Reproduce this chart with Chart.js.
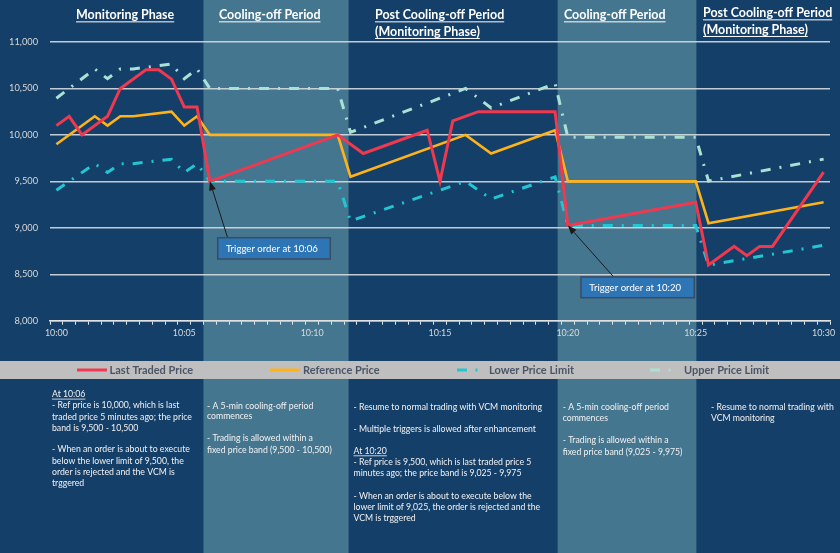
<!DOCTYPE html>
<html><head><meta charset="utf-8">
<script src="https://cdn.jsdelivr.net/npm/chart.js@4.4.1/dist/chart.umd.min.js"></script>
<style>html,body{margin:0;padding:0;background:#143F69;overflow:hidden}canvas{display:block}</style>
</head><body>
<canvas id="c" width="840" height="553"></canvas>
<script>
// ---------- DATA ----------
const categories = [
 '10:00','10:00:30','10:01','10:01:30','10:02','10:02:30','10:03','10:03:30','10:04','10:04:30',
 '10:05','10:05:30','10:06','10:06:30','10:07','10:07:30','10:08','10:08:30','10:09','10:09:30',
 '10:10','10:10:30','10:11','10:11:30','10:12','10:12:30','10:13','10:13:30','10:14','10:14:30',
 '10:15','10:15:30','10:16','10:16:30','10:17','10:17:30','10:18','10:18:30','10:19','10:19:30',
 '10:20','10:20:30','10:21','10:21:30','10:22','10:22:30','10:23','10:23:30','10:24','10:24:30',
 '10:25','10:25:30','10:26','10:26:30','10:27','10:27:30','10:28','10:28:30','10:29','10:29:30',
 '10:30'
];
const xTickLabels = ['10:00','10:05','10:10','10:15','10:20','10:25','10:30'];
const yTickValues = [8000, 8500, 9000, 9500, 10000, 10500, 11000];

const lastTraded = [
 10100, 10200, 10000, null, 10200, 10500, null, 10700, 10700, 10600,
 10300, 10300, 9500, null, null, null, null, null, null, null,
 null, null, 10000, null, 9800, null, null, null, null, 10050,
 9500, 10150, null, 10250, null, null, null, null, null, 10250,
 9025, null, null, null, null, null, null, null, null, null,
 9275, 8600, null, 8800, 8700, 8800, 8800, null, null, null,
 9600
];
const referencePrice = [
 9900, null, null, 10200, 10100, 10200, 10200, null, null, 10250,
 10100, 10200, 10000, null, null, null, null, null, null, null,
 null, null, 10000, 9550, null, null, null, null, null, null,
 null, null, 10000, null, 9800, null, null, null, null, 10050,
 9500, null, null, null, null, null, null, null, null, null,
 9500, 9050, null, null, null, null, null, null, null, null,
 9275
];
const lowerLimit = [
 9405, null, null, 9690, 9595, 9690, 9690, null, null, 9738,
 9595, 9690, 9500, null, null, null, null, null, null, null,
 null, null, 9500, 9073, null, null, null, null, null, null,
 null, null, 9500, null, 9310, null, null, null, null, 9548,
 9025, null, null, null, null, null, null, null, null, null,
 9025, 8598, null, null, null, null, null, null, null, null,
 8811
];
const upperLimit = [
 10395, null, null, 10710, 10605, 10710, 10710, null, null, 10763,
 10605, 10710, 10500, null, null, null, null, null, null, null,
 null, null, 10500, 10028, null, null, null, null, null, null,
 null, null, 10500, null, 10290, null, null, null, null, 10553,
 9975, null, null, null, null, null, null, null, null, null,
 9975, 9503, null, null, null, null, null, null, null, null,
 9739
];
const seriesNames = ['Last Traded Price','Reference Price','Lower Price Limit','Upper Price Limit'];
const triggerIndexes = [12, 40];
const triggerTexts = ['Trigger order at 10:06','Trigger order at 10:20'];

// ---------- STYLE / LAYOUT ----------
const FONT = 'Lato, "Open Sans", sans-serif';
const DARK = '#143F69', LIGHT = '#45768F';
const RED = '#F0384F', YEL = '#FFB31A', CYAN = '#22C6D3', MINT = '#A9E2D5';
const GRID = 'rgba(214,218,224,0.9)', AXT = '#D9D9D9';
const DASH = [10, 9, 2, 9];
const bands = [[11.5, 22.85], [39.2, 50.05]];

function fit(text, weight, target){
  const c = document.createElement('canvas').getContext('2d');
  c.font = weight + ' 100px ' + FONT;
  return 100 * target / c.measureText(text).width;
}
const headSize = (fit('Monitoring Phase','bold',99) + fit('Cooling-off Period','bold',101)) / 2;
const bodySize = 1.03 * (fit('- Ref price is 10,000, which is last','normal',123) + fit('- Multiple triggers is allowed after enhancement','normal',178.7)) / 2;
const legSize = (fit('Last Traded Price','bold',84) + fit('Lower Price Limit','bold',85)) / 2;
const boxSize = fit('Trigger order at 10:06','normal',92);
const ySize = fit('11,000','normal',29);
const xSize = fit('10:00','normal',23);

const headers = [
 {x:76, y:15, lines:['Monitoring Phase']},
 {x:219, y:15, lines:['Cooling-off Period']},
 {x:375, y:15, lines:['Post Cooling-off Period','(Monitoring Phase)']},
 {x:564, y:15, lines:['Cooling-off Period']},
 {x:703, y:13, lines:['Post Cooling-off Period','(Monitoring Phase)']}
];
const notes = [
 {x:52, rows:[[394.3,'At 10:06',true],[405.3,'- Ref price is 10,000, which is last'],[416.7,'traded price 5 minutes ago; the price'],[427.7,'band is 9,500 - 10,500'],
   [449.3,'- When an order is about to execute'],[460.7,'below the lower limit of 9,500, the'],[471.7,'order is rejected and the VCM is'],[482.7,'trggered']]},
 {x:207, rows:[[405.7,'- A 5-min cooling-off period'],[416.5,'commences'],[438.3,'- Trading is allowed within a'],[449.7,'fixed price band (9,500 - 10,500)']]},
 {x:353.5, rows:[[407.3,'- Resume to normal trading with VCM monitoring'],[429.3,'- Multiple triggers is allowed after enhancement'],[451,'At 10:20',true],
   [462.3,'- Ref price is 9,500, which is last traded price 5'],[473.3,'minutes ago; the price band is 9,025 - 9,975'],[496,'- When an order is about to execute below the'],
   [507,'lower limit of 9,025, the order is rejected and the'],[518,'VCM is trggered']]},
 {x:562.7, rows:[[406.7,'- A 5-min cooling-off period'],[417.7,'commences'],[439.7,'- Trading is allowed within a'],[451.7,'fixed price band (9,025 - 9,975)']]},
 {x:711, rows:[[406.7,'- Resume to normal trading with'],[417.7,'VCM monitoring']]}
];
const boxes = [
 {x:217.7, y:237.7, w:112.6, h:21.3, tx:226, from:[227.7,238]},
 {x:581, y:277, w:113.3, h:20.7, tx:589.3, from:[613.3,276.5]}
];
const legendItems = [
 {kind:'solid', color:RED, x1:77, x2:107, tx:109.5},
 {kind:'solid', color:YEL, x1:270, x2:300, tx:303},
 {kind:'dash', color:CYAN, x1:457, x2:467, dot:476.5, tx:489},
 {kind:'dash', color:MINT, x1:650, x2:660, dot:669.5, tx:684}
];

const deco = {
  id:'deco',
  beforeDraw(chart){
    const {ctx, width, height} = chart, xs = chart.scales.x;
    ctx.save();
    ctx.fillStyle = DARK; ctx.fillRect(0,0,width,height);
    ctx.fillStyle = LIGHT;
    bands.forEach(([a,b]) => { const xa = xs.getPixelForValue(a), xb = xs.getPixelForValue(b); ctx.fillRect(xa,0,xb-xa,height); });
    ctx.restore();
  },
  afterDraw(chart){
    const {ctx, width} = chart, xs = chart.scales.x, ys = chart.scales.y;
    ctx.save();
    // headers
    ctx.fillStyle = '#FFFFFF'; ctx.strokeStyle = '#FFFFFF'; ctx.lineWidth = 1;
    ctx.font = 'bold ' + headSize + 'px ' + FONT; ctx.textBaseline = 'middle'; ctx.textAlign = 'left';
    headers.forEach(h => h.lines.forEach((t,i) => {
      const y = h.y + i*16.6; ctx.fillText(t, h.x, y);
      const w = ctx.measureText(t).width;
      ctx.beginPath(); ctx.moveTo(h.x, y + headSize*0.55); ctx.lineTo(h.x + w, y + headSize*0.55); ctx.stroke();
    }));
    // trigger annotations
    boxes.forEach((b,k) => {
      const idx = triggerIndexes[k];
      const tx = xs.getPixelForValue(idx), ty = ys.getPixelForValue(lowerLimit[idx]);
      ctx.strokeStyle = '#1b1b1b'; ctx.fillStyle = '#1b1b1b'; ctx.lineWidth = 1;
      const [fx,fy] = b.from, ang = Math.atan2(ty-fy, tx-fx), L = 9, W = 3.5;
      const bx = tx - L*Math.cos(ang), by = ty - L*Math.sin(ang);
      ctx.beginPath(); ctx.moveTo(fx,fy); ctx.lineTo(bx,by); ctx.stroke();
      ctx.beginPath(); ctx.moveTo(tx,ty);
      ctx.lineTo(bx + W*Math.sin(ang), by - W*Math.cos(ang));
      ctx.lineTo(bx - W*Math.sin(ang), by + W*Math.cos(ang)); ctx.closePath(); ctx.fill();
      ctx.fillStyle = '#2E75B6'; ctx.fillRect(b.x, b.y, b.w, b.h);
      ctx.strokeStyle = '#3B4B60'; ctx.lineWidth = 1.5; ctx.strokeRect(b.x, b.y, b.w, b.h);
      ctx.fillStyle = '#FFFFFF'; ctx.font = boxSize + 'px ' + FONT;
      ctx.fillText(triggerTexts[k], b.tx, b.y + b.h/2 + 0.5);
    });
    // legend bar
    ctx.fillStyle = '#BFBFBF'; ctx.fillRect(0, 361, width, 18);
    ctx.font = 'bold ' + legSize + 'px ' + FONT;
    legendItems.forEach((it,i) => {
      ctx.strokeStyle = it.color; ctx.lineWidth = 3; ctx.lineCap = 'butt';
      ctx.beginPath(); ctx.moveTo(it.x1, 370); ctx.lineTo(it.x2, 370); ctx.stroke();
      if (it.kind === 'dash') { ctx.beginPath(); ctx.moveTo(it.dot - 1, 370); ctx.lineTo(it.dot + 1, 370); ctx.stroke(); }
      ctx.fillStyle = '#4A5668'; ctx.fillText(seriesNames[i], it.tx, 370.5);
    });
    // notes
    ctx.fillStyle = '#F2F2F2'; ctx.strokeStyle = '#F2F2F2'; ctx.lineWidth = 0.8;
    ctx.font = bodySize + 'px ' + FONT;
    notes.forEach(col => col.rows.forEach(r => {
      ctx.fillText(r[1], col.x, r[0]);
      if (r[2]) { const w = ctx.measureText(r[1]).width; ctx.beginPath(); ctx.moveTo(col.x, r[0]+bodySize*0.55); ctx.lineTo(col.x+w, r[0]+bodySize*0.55); ctx.stroke(); }
    }));
    ctx.restore();
  }
};

const common = {pointRadius:0, pointHoverRadius:0, spanGaps:true, tension:0, fill:false};
new Chart(document.getElementById('c'), {
  type:'line',
  data:{
    labels:categories,
    datasets:[
      Object.assign({label:seriesNames[0], data:lastTraded, borderColor:RED, borderWidth:3}, common),
      Object.assign({label:seriesNames[1], data:referencePrice, borderColor:YEL, borderWidth:2.6}, common),
      Object.assign({label:seriesNames[2], data:lowerLimit, borderColor:CYAN, borderWidth:3, borderDash:DASH}, common),
      Object.assign({label:seriesNames[3], data:upperLimit, borderColor:MINT, borderWidth:3, borderDash:DASH}, common)
    ]
  },
  options:{
    responsive:false, animation:false, events:[],
    layout:{padding:{top:42, left:0, right:10, bottom:553-320.7-20}},
    plugins:{legend:{display:false}, tooltip:{enabled:false}},
    scales:{
      x:{
        type:'category', offset:true,
        grid:{offset:true, drawOnChartArea:false, drawTicks:true, tickLength:4, color:'#E6E6E6', lineWidth:1},
        border:{display:true, color:'#E0E0E0', width:1.5},
        ticks:{autoSkip:false, maxRotation:0, minRotation:0, padding:3, color:AXT, font:{family:FONT, size:xSize},
               callback:(v,i) => xTickLabels.includes(categories[i]) ? categories[i] : ''},
        afterFit(s){ s.height = 20; }
      },
      y:{
        min:yTickValues[0], max:yTickValues[yTickValues.length-1],
        afterBuildTicks(s){ s.ticks = yTickValues.map(v => ({value:v})); },
        grid:{color:GRID, lineWidth:1.5, drawTicks:false},
        border:{display:false},
        ticks:{padding:12, color:AXT, font:{family:FONT, size:ySize}, callback:v => Number(v).toLocaleString('en-US')},
        afterFit(s){ s.width = 50; }
      }
    }
  },
  plugins:[deco]
});
</script>
</body></html>
